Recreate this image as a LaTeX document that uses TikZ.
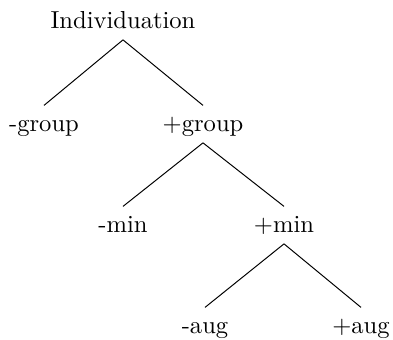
\documentclass[tikz,border=0pt]{standalone}
\usepackage{tikz}

\begin{document}
\begin{tikzpicture}[
  x=0.407pt, y=-0.407pt,
  feat/.style={anchor=base, text height=1.6ex, text depth=.3ex},
  branch/.style={thin}
]
\useasboundingbox (0,0) rectangle (393,339);
\node[feat] (ind) at (123,28) {Individuation};
\node[feat] (mgroup) at (44,131) {-group};
\node[feat] (pgroup) at (203,131) {+group};
\node[feat] (mmin) at (123,232) {-min};
\node[feat] (pmin) at (284,232) {+min};
\node[feat] (maug) at (205,333) {-aug};
\node[feat] (paug) at (361,333) {+aug};
\draw[branch] (ind.south) -- (mgroup.north);
\draw[branch] (ind.south) -- (pgroup.north);
\draw[branch] (pgroup.south) -- (mmin.north);
\draw[branch] (pgroup.south) -- (pmin.north);
\draw[branch] (pmin.south) -- (maug.north);
\draw[branch] (pmin.south) -- (paug.north);
\end{tikzpicture}
\end{document}
